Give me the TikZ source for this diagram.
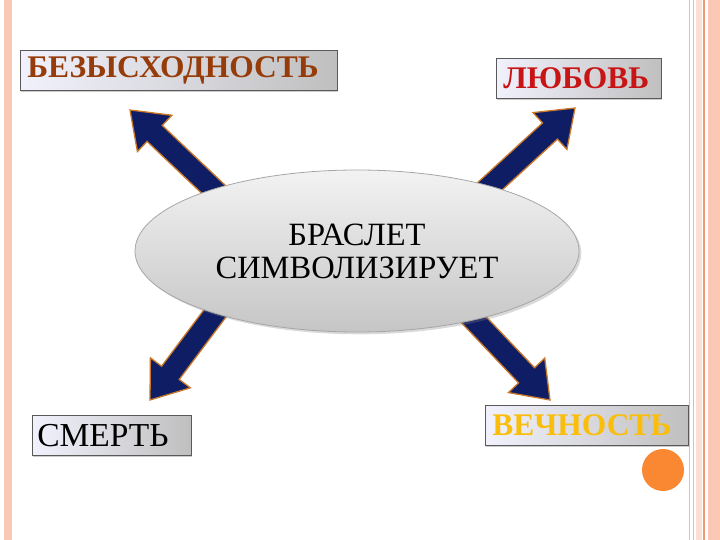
\documentclass[tikz,border=0pt]{standalone}
\usepackage{fontspec}
\setmainfont{Liberation Serif}
\usetikzlibrary{calc,shadows,shapes.geometric}
\definecolor{navy}{RGB}{15,30,100}
\definecolor{arrline}{RGB}{200,120,40}
\definecolor{brn}{RGB}{150,60,10}
\definecolor{lred}{RGB}{200,20,20}
\definecolor{yel}{RGB}{250,190,10}
\definecolor{pinkb}{RGB}{250,200,180}
\definecolor{pinkd}{RGB}{240,150,120}
\definecolor{dotc}{RGB}{250,135,50}
\newcommand\fatarr[2]{\coordinate (h) at ($(#2)!34pt!(#1)$);
\filldraw[fill=navy, draw=arrline, line width=1.3pt, line join=miter] ($(#1)!11pt!90:(#2)$) -- ($(h)!11pt!90:(#2)$) -- ($(h)!25pt!90:(#2)$) -- (#2) -- ($(h)!25pt!-90:(#2)$) -- ($(h)!11pt!-90:(#2)$) -- ($(#1)!11pt!-90:(#2)$) -- cycle;}
\tikzset{lbl/.style={draw=gray!70!black, line width=0.6pt, left color=gray!22!blue!6, right color=gray!50, drop shadow={opacity=0.4, shadow xshift=1pt, shadow yshift=-1.5pt}, font=\bfseries\fontsize{31.5}{34}\selectfont, inner ysep=0pt, inner xsep=7pt, align=left, minimum height=40pt, anchor=north west}}
\begin{document}
\begin{tikzpicture}[x=1pt,y=-1pt]
\useasboundingbox (0,0) rectangle (720,540);
\fill[pinkb] (4,0) rectangle (12,540);
\fill[pinkb] (708,0) rectangle (720,540);
\draw[pinkb!80!brown, line width=1pt] (689,0) -- (689,540) (693,0) -- (693,540);
\fill[pinkb!60] (696,0) rectangle (702,540);
\draw[pinkd, line width=1.5pt] (704,0) -- (704,540);
\coordinate (tls) at (230,205); \coordinate (tle) at (130,110);
\coordinate (trs) at (475,200); \coordinate (tre) at (575,108);
\coordinate (bls) at (225,300); \coordinate (ble) at (150,400);
\coordinate (brs) at (455,300); \coordinate (bre) at (550,400);
\fatarr{tls}{tle}\fatarr{trs}{tre}\fatarr{bls}{ble}\fatarr{brs}{bre}
\node[ellipse, draw=gray!70, line width=0.8pt, top color=white!90!gray, bottom color=gray!45, minimum width=444pt, minimum height=162pt, inner sep=0pt, align=center, font=\fontsize{32.5}{33}\selectfont, drop shadow={opacity=0.3}] (c) at (357,251) {БРАСЛЕТ\\СИМВОЛИЗИРУЕТ};
\node[lbl, text width=303pt, text=brn] (b1) at (20,50) {БЕЗЫСХОДНОСТЬ};
\node[lbl, text width=151pt, text=lred] (b2) at (496,58) {ЛЮБОВЬ};
\node[lbl, text width=149pt, text=black, font=\fontsize{33.5}{34}\selectfont, inner xsep=5pt] (b3) at (32,415) {СМЕРТЬ};
\node[lbl, text width=189pt, text=yel] (b4) at (485,405) {ВЕЧНОСТЬ};
\node[circle, fill=dotc, minimum size=42pt, inner sep=0pt] (dot) at (663,470) {};
\end{tikzpicture}
\end{document}
